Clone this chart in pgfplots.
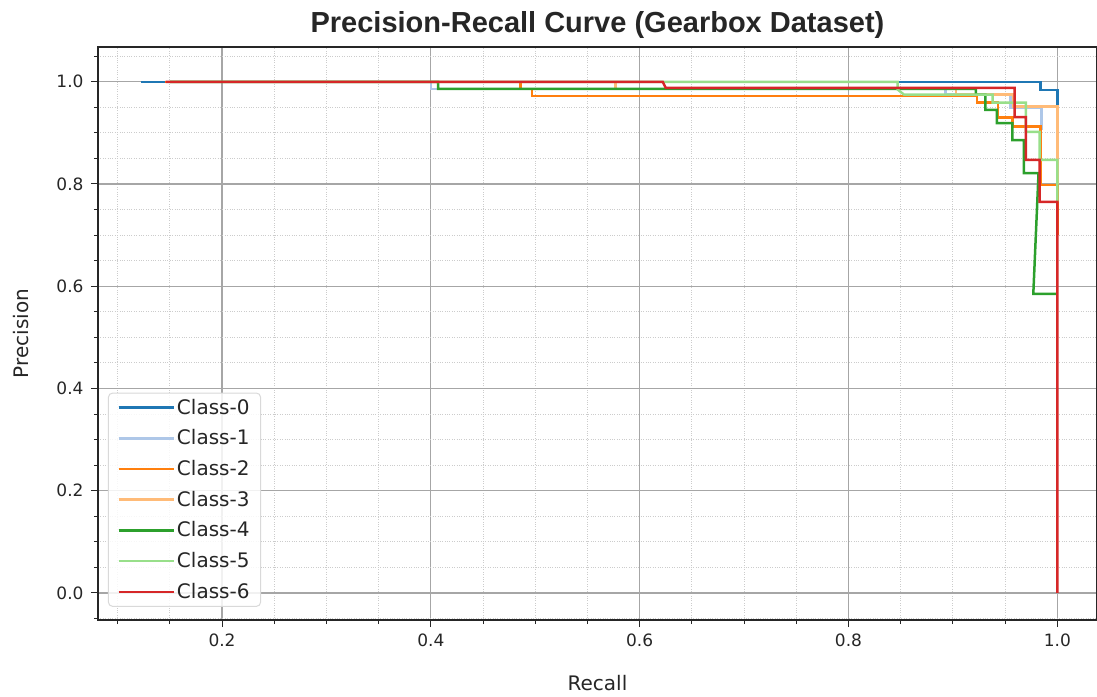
\documentclass[border=0pt]{standalone}
\usepackage{fontspec}
\setmainfont{DejaVu Sans}
\newfontfamily\titlefont{Liberation Sans}
\usepackage{pgfplots}
\pgfplotsset{compat=1.18}
\definecolor{c0}{HTML}{1F77B4}
\definecolor{c1}{HTML}{AEC7E8}
\definecolor{c2}{HTML}{FF7F0E}
\definecolor{c3}{HTML}{FFBB78}
\definecolor{c4}{HTML}{2CA02C}
\definecolor{c5}{HTML}{98DF8A}
\definecolor{c6}{HTML}{D62728}
\begin{document}
\begin{tikzpicture}
\begin{axis}[
  scale only axis, width=999bp, height=573bp,
  xmin=0.0812, xmax=1.038, ymin=-0.053, ymax=1.068,
  xtick={0.2,0.4,0.6,0.8,1.0},
  ytick={0,0.2,0.4,0.6,0.8,1.0},
  minor xtick={0.1,0.15,0.25,0.3,0.35,0.45,0.5,0.55,0.65,0.7,0.75,0.85,0.9,0.95},
  minor ytick={-0.05,0.05,0.1,0.15,0.25,0.3,0.35,0.45,0.5,0.55,0.65,0.7,0.75,0.85,0.9,0.95,1.05},
  xtick pos=bottom, ytick pos=left,
  tick align=outside,
  major tick length=7bp, minor tick length=4bp,
  tick style={black!85, line width=1bp},
  grid=both,
  major grid style={gray!70, line width=1.2bp},
  minor grid style={gray!40, dotted, line width=0.9bp},
  axis line style={black!85, line width=1.2bp},
  /pgf/number format/.cd, fixed, fixed zerofill, precision=1, assume math mode=true,
  /pgfplots/.cd,
  ticklabel style={font=\fontsize{17bp}{20bp}\selectfont, text=black!85},
  xticklabel style={yshift=-3bp},
  yticklabel style={xshift=-4bp},
  title={\titlefont\bfseries Precision-Recall Curve (Gearbox Dataset)},
  title style={at={(axis description cs:0.5,1.0150)}, anchor=base, font=\fontsize{29bp}{32bp}\selectfont, text=black!85, inner sep=0pt},
  xlabel={Recall},
  ylabel={Precision},
  xlabel style={at={(axis description cs:0.5,-0.1239)}, anchor=base, font=\fontsize{20bp}{24bp}\selectfont, text=black!85, inner sep=0pt},
  ylabel style={at={(axis description cs:-0.0691,0.5)}, anchor=base, font=\fontsize{20bp}{24bp}\selectfont, text=black!85, inner sep=0pt},
  every axis plot/.append style={line width=2.5bp},
  legend cell align=left,
  legend image code/.code={\draw[#1] (0bp,0bp) -- (46bp,0bp); \path (0bp,0bp) -- (55bp,0bp);},
  legend style={at={(axis description cs:0.01,0.023)}, anchor=south west,
    draw=gray!30, line width=1bp, rounded corners=4bp, fill=white, fill opacity=0.85, text opacity=1,
    font=\fontsize{20bp}{24bp}\selectfont, text=black!85,
    row sep=13.7bp, inner xsep=9bp, inner ysep=6bp,
    nodes={inner sep=2bp, text height=13bp, text depth=0bp}},
]
\addplot[c0] coordinates {(0.122,1.0) (0.984,1.0) (0.984,0.984) (1.0,0.984) (1.0,0.951)};
\addlegendentry{Class-0}
\addplot[c1] coordinates {(0.146,1.0) (0.400,1.0) (0.400,0.986) (0.893,0.986) (0.893,0.975) (0.955,0.975) (0.955,0.949) (0.985,0.949) (0.985,0.905)};
\addlegendentry{Class-1}
\addplot[c2] coordinates {(0.145,1.0) (0.486,1.0) (0.486,0.986) (0.497,0.986) (0.497,0.972) (0.923,0.972) (0.923,0.959) (0.943,0.959) (0.943,0.930) (0.957,0.930) (0.957,0.912) (0.984,0.912) (0.984,0.798) (1.0,0.798) (1.0,0.70)};
\addlegendentry{Class-2}
\addplot[c3] coordinates {(0.146,1.0) (0.577,1.0) (0.577,0.986) (0.903,0.986) (0.903,0.975) (0.958,0.975) (0.958,0.952) (1.0,0.952) (1.0,0.80)};
\addlegendentry{Class-3}
\addplot[c4] coordinates {(0.15,1.0) (0.407,1.0) (0.407,0.986) (0.922,0.986) (0.922,0.975) (0.931,0.975) (0.931,0.945) (0.942,0.945) (0.942,0.919) (0.957,0.919) (0.957,0.886) (0.968,0.886) (0.968,0.821) (0.982,0.821) (0.977,0.585) (1.0,0.585)};
\addlegendentry{Class-4}
\addplot[c5] coordinates {(0.15,1.0) (0.847,1.0) (0.847,0.985) (0.853,0.975) (0.938,0.975) (0.938,0.959) (0.970,0.959) (0.970,0.902) (0.983,0.902) (0.983,0.847) (1.0,0.847) (1.0,0.765)};
\addlegendentry{Class-5}
\addplot[c6] coordinates {(0.146,1.0) (0.622,1.0) (0.625,0.988) (0.959,0.988) (0.959,0.931) (0.970,0.931) (0.970,0.847) (0.983,0.847) (0.983,0.765) (1.0,0.765) (1.0,0.0)};
\addlegendentry{Class-6}
\end{axis}
\pgfresetboundingbox
\path[use as bounding box] (-98bp,-77bp) rectangle (999bp,620bp);
\end{tikzpicture}
\end{document}
